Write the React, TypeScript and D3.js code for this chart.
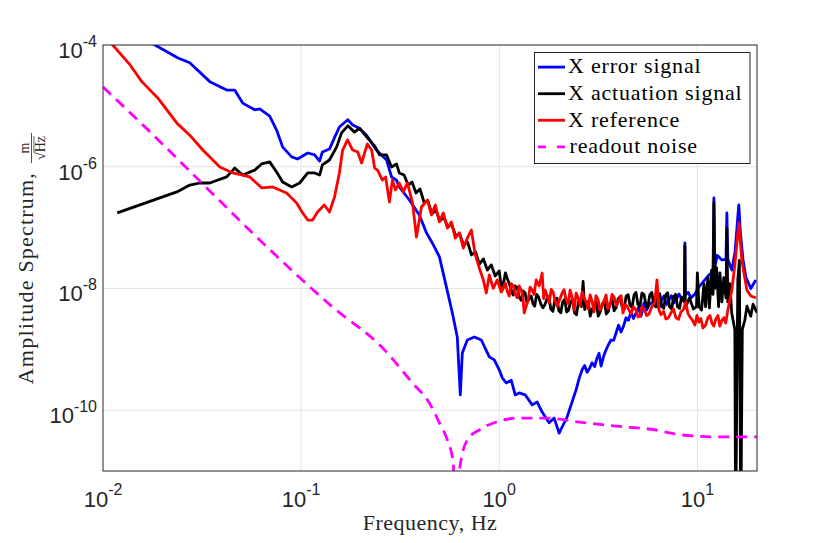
import React from 'react';
import * as d3 from 'd3';

type Pt = [number, number];

// frequency [Hz], amplitude [m/sqrt(Hz)]
const errorSignal: Pt[] = [
  [0.0129, 1.76e-4], [0.0183, 1.0e-4], [0.0239, 6.1e-5], [0.0274, 5.1e-5], [0.0346, 2.5e-5],
  [0.0421, 1.82e-5], [0.0462, 1.82e-5], [0.0507, 1.11e-5], [0.0583, 8.6e-6], [0.0618, 8.9e-6],
  [0.0694, 6.8e-6], [0.0752, 4.0e-6], [0.0807, 2.1e-6], [0.0896, 1.45e-6], [0.096, 1.34e-6],
  [0.108, 1.68e-6], [0.117, 1.56e-6], [0.124, 1.24e-6], [0.128, 1.75e-6], [0.139, 1.95e-6],
  [0.148, 3.1e-6], [0.156, 4.5e-6], [0.172, 5.9e-6], [0.182, 4.85e-6], [0.197, 4.3e-6],
  [0.214, 3.3e-6], [0.24, 1.88e-6], [0.27, 1.29e-6], [0.286, 6.8e-7], [0.303, 6.0e-7],
  [0.313, 4.65e-7], [0.352, 2.84e-7], [0.395, 1.61e-7], [0.429, 8.2e-8], [0.465, 5.2e-8],
  [0.499, 3.3e-8], [0.541, 1.06e-8], [0.58, 3.95e-9], [0.614, 1.59e-9], [0.636, 1.78e-10],
  [0.651, 8.7e-10], [0.69, 1.42e-9], [0.748, 1.59e-9], [0.812, 1.42e-9], [0.891, 7.5e-10],
  [0.944, 6.7e-10], [1.0, 4.6e-10], [1.036, 3.4e-10], [1.085, 2.8e-10], [1.15, 3.1e-10],
  [1.204, 1.78e-10], [1.261, 1.92e-10], [1.352, 1.78e-10], [1.467, 1.22e-10], [1.554, 1.36e-10],
  [1.647, 9.3e-11], [1.746, 6.9e-11], [1.786, 6.2e-11], [1.893, 7.4e-11], [2.006, 4.2e-11],
  [2.101, 5.7e-11], [2.2, 7.7e-11], [2.443, 2.15e-10], [2.53, 3.3e-10], [2.62, 4.6e-10],
  [2.7, 5.4e-10], [2.776, 4.2e-10], [2.86, 4.9e-10], [2.942, 6.0e-10], [3.03, 5.2e-10],
  [3.117, 7.2e-10], [3.19, 8.6e-10], [3.266, 5.3e-10], [3.36, 7.6e-10], [3.461, 9.8e-10],
  [3.56, 1.2e-9], [3.667, 1.42e-9], [3.78, 1.4e-9], [3.887, 1.85e-9], [4.0, 2.5e-9],
  [4.119, 1.92e-9], [4.24, 2.4e-9], [4.365, 3.3e-9], [4.49, 3.0e-9], [4.624, 4.1e-9],
  [4.76, 3.2e-9], [4.9, 3.95e-9], [5.05, 4.9e-9], [5.193, 3.5e-9], [5.378, 5.8e-9],
  [5.54, 4.4e-9], [5.7, 5.35e-9], [6.05, 6.2e-9], [6.397, 4.8e-9], [6.59, 6.4e-9],
  [6.782, 7.5e-9], [6.98, 5.4e-9], [7.19, 6.5e-9], [7.4, 7.6e-9], [7.616, 5.8e-9],
  [7.84, 6.6e-9], [8.07, 8.1e-9], [8.35, 6.6e-9], [8.6, 7.5e-9], [8.65, 5.6e-8],
  [8.7, 7.8e-9], [9.0, 8.6e-9], [9.28, 7.0e-9], [9.7, 8.0e-9], [10.18, 1.06e-8],
  [11.43, 1.66e-8], [12.0, 1.9e-8], [12.12, 3.06e-7], [12.25, 2.2e-8], [12.6, 3.5e-8],
  [13.29, 2.94e-8], [13.95, 3.0e-8], [14.09, 1.74e-7], [14.25, 3.0e-8], [14.93, 2.0e-8],
  [15.5, 4.0e-8], [16.0, 1.5e-7], [16.19, 2.35e-7], [16.5, 8.0e-8], [17.0, 3.0e-8],
  [17.56, 1.54e-8], [18.6, 1.0e-8], [19.72, 1.38e-8],
];

const actuationSignal: Pt[] = [
  [0.0118, 1.74e-7], [0.0236, 3.85e-7], [0.0274, 5.0e-7], [0.0308, 5.4e-7], [0.0346, 5.4e-7],
  [0.0421, 6.8e-7], [0.0462, 9.5e-7], [0.0507, 7.3e-7], [0.0583, 8.8e-7], [0.0632, 1.11e-6],
  [0.0694, 1.2e-6], [0.0752, 8.2e-7], [0.0807, 5.6e-7], [0.0896, 4.65e-7], [0.0983, 5.4e-7],
  [0.108, 7.9e-7], [0.117, 7.9e-7], [0.124, 7.3e-7], [0.128, 1.07e-6], [0.139, 1.29e-6],
  [0.151, 2.1e-6], [0.16, 3.6e-6], [0.172, 4.7e-6], [0.186, 3.7e-6], [0.197, 4.3e-6],
  [0.214, 3.1e-6], [0.235, 2.2e-6], [0.249, 1.56e-6], [0.27, 1.56e-6], [0.286, 9.9e-7],
  [0.303, 1.11e-6], [0.313, 7.9e-7], [0.331, 7.3e-7], [0.347, 5.0e-7], [0.363, 5.6e-7],
  [0.38, 3.7e-7], [0.398, 4.3e-7], [0.417, 2.63e-7], [0.437, 2.73e-7], [0.457, 1.67e-7],
  [0.479, 1.95e-7], [0.501, 1.28e-7], [0.525, 1.49e-7], [0.55, 1.02e-7], [0.575, 1.15e-7],
  [0.603, 7.3e-8], [0.631, 7.9e-8], [0.661, 5.2e-8], [0.692, 5.8e-8], [0.724, 3.55e-8],
  [0.759, 4.0e-8], [0.794, 2.5e-8], [0.832, 3.05e-8], [0.871, 2.0e-8], [0.912, 2.43e-8],
  [0.955, 1.6e-8], [1.0, 1.94e-8], [1.025, 1.0e-8], [1.05, 1.23e-8], [1.075, 1.8e-8],
  [1.1, 1.43e-8], [1.125, 1.2e-8], [1.15, 9.1e-9], [1.175, 7.8e-9], [1.2, 1.1e-8],
  [1.23, 1.05e-8], [1.26, 7.2e-9], [1.29, 6.4e-9], [1.32, 9.1e-9], [1.35, 8.4e-9],
  [1.38, 5.8e-9], [1.41, 6.6e-9], [1.45, 7.5e-9], [1.48, 5.6e-9], [1.51, 5.1e-9],
  [1.545, 8.0e-9], [1.58, 7.2e-9], [1.62, 5.6e-9], [1.66, 4.8e-9], [1.7, 5.4e-9],
  [1.74, 6.7e-9], [1.78, 7.4e-9], [1.82, 4.6e-9], [1.865, 4.2e-9], [1.91, 6.5e-9],
  [1.955, 6.9e-9], [2.0, 4.3e-9], [2.045, 4.0e-9], [2.09, 6.0e-9], [2.14, 6.6e-9],
  [2.19, 4.1e-9], [2.24, 4.4e-9], [2.29, 6.0e-9], [2.345, 6.5e-9], [2.4, 3.95e-9],
  [2.455, 3.7e-9], [2.51, 6.0e-9], [2.56, 6.4e-9], [2.6, 5.0e-9], [2.65, 1.3e-8],
  [2.7, 4.5e-9], [2.75, 5.5e-9], [2.815, 6.1e-9], [2.88, 3.5e-9], [2.95, 4.6e-9],
  [3.02, 5.1e-9], [3.09, 6.0e-9], [3.16, 3.5e-9], [3.235, 4.1e-9], [3.31, 5.5e-9],
  [3.39, 6.2e-9], [3.47, 3.8e-9], [3.55, 4.2e-9], [3.63, 5.8e-9], [3.715, 6.5e-9],
  [3.8, 4.3e-9], [3.89, 4.8e-9], [3.98, 6.7e-9], [4.075, 7.3e-9], [4.17, 5.0e-9],
  [4.27, 4.6e-9], [4.37, 7.5e-9], [4.47, 7.9e-9], [4.57, 5.35e-9], [4.68, 4.9e-9],
  [4.79, 7.8e-9], [4.9, 8.6e-9], [5.01, 5.5e-9], [5.13, 5.0e-9], [5.25, 8.4e-9],
  [5.375, 8.0e-9], [5.5, 5.5e-9], [5.625, 4.9e-9], [5.75, 7.8e-9], [5.89, 8.6e-9],
  [6.03, 5.35e-9], [6.17, 5.0e-9], [6.31, 7.8e-9], [6.46, 8.2e-9], [6.61, 5.1e-9],
  [6.765, 4.7e-9], [6.92, 7.8e-9], [7.08, 8.5e-9], [7.24, 5.0e-9], [7.415, 4.6e-9],
  [7.59, 7.2e-9], [7.765, 8.0e-9], [7.94, 5.0e-9], [8.13, 4.7e-9], [8.32, 7.2e-9],
  [8.6, 6.0e-9], [8.65, 5.0e-8], [8.7, 4.8e-9], [9.12, 7.0e-9], [9.55, 4.6e-9],
  [9.9, 5.0e-9], [10.0, 1.8e-8], [10.2, 5.0e-9], [10.5, 4.4e-9], [10.8, 1.2e-8],
  [11.0, 5.0e-9], [11.3, 1.5e-8], [11.5, 4.8e-9], [11.8, 2.0e-8], [12.0, 8.0e-9],
  [12.12, 2.6e-7], [12.25, 1.0e-8], [12.5, 2.2e-8], [12.8, 5.0e-9], [13.0, 1.8e-8],
  [13.3, 6.0e-9], [13.6, 1.5e-8], [13.95, 7.0e-9], [14.09, 9.8e-8], [14.25, 6.0e-9],
  [14.6, 1.2e-8], [14.9, 4.0e-9], [15.46, 2.1e-9], [15.6, 1e-12], [16.0, 1.4e-8],
  [16.3, 2.9e-8], [16.56, 1e-12], [16.86, 2.1e-9], [17.36, 3.0e-9], [17.8, 5.1e-9],
  [18.6, 3.5e-9], [19.1, 5.5e-9], [20.0, 4.0e-9],
];

const referenceSignal: Pt[] = [
  [0.0102, 1.46e-4], [0.0112, 1.0e-4], [0.0137, 4.7e-5], [0.0157, 2.5e-5], [0.0189, 1.35e-5],
  [0.0236, 5.2e-6], [0.0274, 3.3e-6], [0.0319, 1.88e-6], [0.0389, 9.9e-7], [0.0452, 7.9e-7],
  [0.0507, 7.3e-7], [0.055, 6.8e-7], [0.0632, 4.5e-7], [0.0719, 4.65e-7], [0.0845, 3.7e-7],
  [0.0949, 2.54e-7], [0.1018, 1.74e-7], [0.108, 1.33e-7], [0.1143, 1.33e-7], [0.121, 1.8e-7],
  [0.131, 2.35e-7], [0.139, 1.8e-7], [0.1475, 3.2e-7], [0.156, 7.9e-7], [0.162, 1.88e-6],
  [0.1715, 2.75e-6], [0.182, 1.88e-6], [0.193, 1.75e-6], [0.202, 1.15e-6], [0.209, 1.68e-6],
  [0.216, 2.36e-6], [0.227, 1.88e-6], [0.235, 9.5e-7], [0.243, 8.8e-7], [0.257, 6.05e-7],
  [0.267, 6.8e-7], [0.279, 2.63e-7], [0.289, 6.05e-7], [0.299, 4.15e-7], [0.313, 5.4e-7],
  [0.328, 3.85e-7], [0.344, 5.4e-7], [0.365, 2.54e-7], [0.382, 7.0e-8], [0.405, 2.18e-7],
  [0.434, 2.84e-7], [0.4545, 1.61e-7], [0.476, 2.35e-7], [0.4985, 1.24e-7], [0.522, 1.74e-7],
  [0.547, 9.8e-8], [0.573, 1.24e-7], [0.6, 6.7e-8], [0.629, 8.2e-8], [0.659, 4.6e-8],
  [0.69, 6.7e-8], [0.723, 9.1e-8], [0.757, 3.55e-8], [0.793, 2.17e-8], [0.831, 1.38e-8],
  [0.86, 8.4e-9], [0.891, 1.66e-8], [0.933, 1.0e-8], [0.977, 1.38e-8], [1.024, 8.75e-9],
  [1.048, 1.0e-8], [1.072, 1.23e-8], [1.1, 8.8e-9], [1.123, 7.5e-9], [1.15, 1.2e-8],
  [1.176, 1.1e-8], [1.204, 8.0e-9], [1.232, 7.0e-9], [1.26, 1.1e-8], [1.291, 9.4e-9],
  [1.315, 7.5e-9], [1.337, 3.95e-9], [1.37, 5.2e-9], [1.4, 6.5e-9], [1.43, 1.05e-8],
  [1.467, 9.4e-9], [1.5, 8.0e-9], [1.536, 1.38e-8], [1.59, 1.1e-8], [1.647, 1.79e-8],
  [1.676, 6.8e-9], [1.705, 9.4e-9], [1.745, 7.6e-9], [1.786, 5.8e-9], [1.83, 9.6e-9],
  [1.871, 8.75e-9], [1.915, 6.2e-9], [1.96, 5.1e-9], [2.02, 6.6e-9], [2.077, 8.4e-9],
  [2.125, 9.5e-9], [2.176, 6.5e-9], [2.23, 5.6e-9], [2.279, 9.4e-9], [2.33, 7.2e-9],
  [2.387, 4.4e-9], [2.445, 8.4e-9], [2.501, 7.0e-9], [2.56, 5.2e-9], [2.62, 8.75e-9],
  [2.68, 7.0e-9], [2.744, 6.0e-9], [2.81, 4.6e-9], [2.874, 7.8e-9], [2.94, 6.2e-9],
  [3.011, 4.1e-9], [3.08, 7.6e-9], [3.154, 6.5e-9], [3.23, 4.4e-9], [3.3, 5.0e-9],
  [3.38, 6.2e-9], [3.461, 7.8e-9], [3.54, 4.6e-9], [3.625, 5.35e-9], [3.71, 8.0e-9],
  [3.797, 7.2e-9], [3.91, 5.2e-9], [4.023, 6.5e-9], [4.12, 7.6e-9], [4.216, 3.95e-9],
  [4.31, 5.4e-9], [4.415, 5.1e-9], [4.52, 4.4e-9], [4.624, 3.8e-9], [4.76, 5.0e-9],
  [4.9, 4.4e-9], [5.02, 3.4e-9], [5.133, 3.5e-9], [5.25, 5.0e-9], [5.378, 4.6e-9],
  [5.54, 3.6e-9], [5.7, 3.8e-9], [5.83, 4.6e-9], [5.97, 5.35e-9], [6.1, 6.0e-9],
  [6.254, 1.38e-8], [6.4, 4.4e-9], [6.551, 3.7e-9], [6.75, 4.2e-9], [6.94, 3.15e-9],
  [7.15, 3.3e-9], [7.357, 3.95e-9], [7.58, 4.6e-9], [7.796, 3.3e-9], [8.03, 3.1e-9],
  [8.26, 4.1e-9], [8.5, 4.5e-9], [8.75, 6.0e-9], [8.96, 3.9e-9], [9.17, 3.4e-9],
  [9.45, 3.0e-9], [9.72, 2.5e-9], [9.95, 3.6e-9], [10.18, 2.8e-9], [10.42, 3.2e-9],
  [10.66, 2.24e-9], [11.0, 2.5e-9], [11.3, 3.3e-9], [11.57, 3.6e-9], [11.84, 2.7e-9],
  [12.1, 2.4e-9], [12.4, 3.15e-9], [12.7, 3.6e-9], [12.99, 2.4e-9], [13.3, 3.0e-9],
  [13.6, 3.3e-9], [13.9, 2.7e-9], [14.25, 4.4e-9], [14.93, 9.4e-9], [15.46, 2.43e-8],
  [16.19, 1.19e-7], [16.76, 2.93e-8], [17.77, 9.4e-9], [18.61, 7.5e-9], [19.72, 7.0e-9],
];

const readoutNoise: Pt[] = [
  [0.01, 2.04e-5], [0.0173, 3.72e-6], [0.0308, 5.82e-7], [0.0618, 6.25e-8], [0.144, 4.96e-9],
  [0.258, 1.05e-9], [0.365, 2.79e-10], [0.444, 1.31e-10], [0.499, 6.17e-11], [0.547, 3.24e-11],
  [0.586, 1.35e-11], [0.607, 1e-13], [0.629, 1e-11], [0.69, 3.24e-11], [0.793, 4.72e-11],
  [0.966, 6.38e-11], [1.26, 7.4e-11], [1.73, 7.4e-11], [2.53, 6.38e-11], [4.36, 5.28e-11],
  [5.7, 4.9e-11], [8.36, 3.91e-11], [12.6, 3.63e-11], [20, 3.63e-11],
];

const xTicks = [0.01, 0.1, 1, 10];
const xTickExp = ['-2', '-1', '0', '1'];
const yTicks = [1e-4, 1e-6, 1e-8, 1e-10];
const yTickExp = ['-4', '-6', '-8', '-10'];

const series = [
  { name: 'X error signal', data: errorSignal, color: '#0000ff', dash: '' },
  { name: 'X actuation signal', data: actuationSignal, color: '#000000', dash: '' },
  { name: 'X reference', data: referenceSignal, color: '#ff0000', dash: '' },
  { name: 'readout noise', data: readoutNoise, color: '#ff00ff', dash: '11 7' },
];

const W = 830;
const H = 543;
const left = 103;
const right = 757;
const top = 45;
const bottom = 471;

const serif = '"Liberation Serif", "Times New Roman", serif';
const sans = '"Liberation Sans", Arial, sans-serif';

export default function App() {
  const x = d3.scaleLog().domain([0.01, 20]).range([left, right]);
  const y = d3.scaleLog().domain([1e-11, 1e-4]).range([bottom, top]);

  const line = d3
    .line<Pt>()
    .x((d) => x(d[0]))
    .y((d) => y(d[1]));
  const smooth = d3
    .line<Pt>()
    .x((d) => x(d[0]))
    .y((d) => y(d[1]))
    .curve(d3.curveMonotoneX);

  const legendX = 534.5;
  const legendY = 52.5;
  const rowH = 26.6;

  return (
    <div style={{ position: 'absolute', left: 0, top: 0 }}>
      <svg width={W} height={H} style={{ display: 'block', background: '#fff' }}>
        <defs>
          <clipPath id="plot-area">
            <rect x={left} y={top} width={right - left} height={bottom - top} />
          </clipPath>
        </defs>

        {/* grid */}
        <g stroke="#e3e3e3" strokeWidth={1}>
          {xTicks.slice(1).map((t) => (
            <line key={t} x1={x(t)} x2={x(t)} y1={top} y2={bottom} />
          ))}
          {yTicks.slice(1).map((t) => (
            <line key={t} x1={left} x2={right} y1={y(t)} y2={y(t)} />
          ))}
        </g>

        {/* curves */}
        <g clipPath="url(#plot-area)" fill="none" strokeLinejoin="round">
          {series.map((s) => (
            <path
              key={s.name}
              d={(s.dash ? smooth : line)(s.data) ?? ''}
              stroke={s.color}
              strokeWidth={2.8}
              strokeDasharray={s.dash || undefined}
            />
          ))}
        </g>

        {/* box */}
        <rect
          x={left}
          y={top}
          width={right - left}
          height={bottom - top}
          fill="none"
          stroke="#262626"
          strokeWidth={1}
        />

        {/* tick labels */}
        <g fontFamily={sans} fill="#262626">
          {xTicks.map((t, i) => (
            <text key={t} x={x(t)} y={506.5} fontSize={22} textAnchor="middle">
              10
              <tspan dy={-11.5} fontSize={16}>
                {xTickExp[i]}
              </tspan>
            </text>
          ))}
          {yTicks.map((t, i) => (
            <text key={t} x={97} y={y(t) + 12.8} fontSize={22} textAnchor="end">
              10
              <tspan dy={-11} fontSize={16}>
                {yTickExp[i]}
              </tspan>
            </text>
          ))}
        </g>

        {/* axis labels */}
        <text
          x={(left + right) / 2}
          y={530}
          fontFamily={serif}
          fontSize={22}
          letterSpacing={0.5}
          textAnchor="middle"
          fill="#262626"
        >
          Frequency, Hz
        </text>
        <g transform="translate(33, 385) rotate(-90)" fontFamily={serif} fill="#262626">
          <text x={213} y={0} fontSize={22} letterSpacing={1.2} textAnchor="end">
            Amplitude Spectrum,
          </text>
          <text x={237} y={-4} fontSize={14} textAnchor="middle">
            m
          </text>
          <line x1={222} x2={252} y1={-1.5} y2={-1.5} stroke="#262626" strokeWidth={0.8} />
          <text x={237} y={11.5} fontSize={14} textAnchor="middle">
            √Hz
          </text>
          <line x1={232.5} x2={249} y1={0.9} y2={0.9} stroke="#262626" strokeWidth={0.7} />
        </g>

        {/* legend */}
        <g>
          <rect
            x={legendX}
            y={legendY}
            width={215.5}
            height={111}
            fill="#fff"
            stroke="#262626"
            strokeWidth={1}
          />
          {series.map((s, i) => {
            const cy = legendY + 14.6 + i * rowH;
            return (
              <g key={s.name}>
                <line
                  x1={538}
                  x2={565}
                  y1={cy}
                  y2={cy}
                  stroke={s.color}
                  strokeWidth={2.8}
                  strokeDasharray={s.dash ? '8 11' : undefined}
                />
                <text
                  x={s.dash ? 569.5 : 568}
                  y={cy + 6.3}
                  fontFamily={serif}
                  fontSize={22}
                  letterSpacing={0.8}
                  fill="#000"
                >
                  {s.name}
                </text>
              </g>
            );
          })}
        </g>
      </svg>
    </div>
  );
}
